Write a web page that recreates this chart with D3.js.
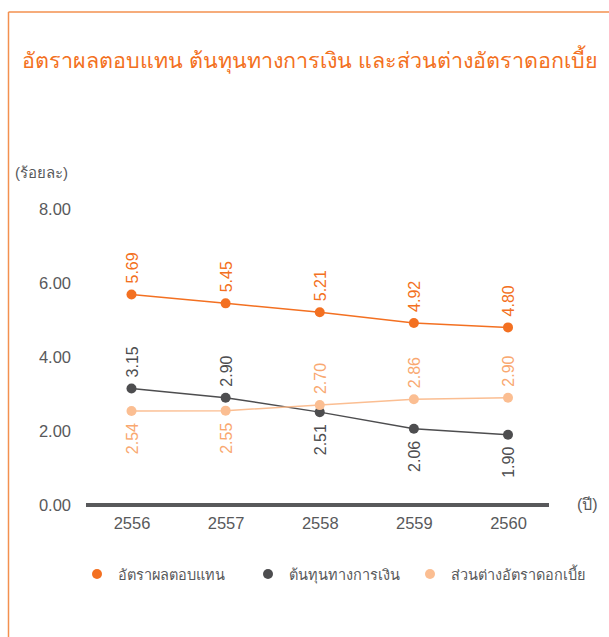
<!DOCTYPE html>
<html>
<head>
<meta charset="utf-8">
<script src="https://cdnjs.cloudflare.com/ajax/libs/d3/7.8.5/d3.min.js"></script>
<style>
  html, body { margin: 0; padding: 0; background: #fff; }
  svg { display: block; }
  text { font-family: "Liberation Sans", Arial, "Noto Sans", sans-serif; }
</style>
</head>
<body>
<svg id="chart" width="609" height="637"></svg>
<script>
const title = "อัตราผลตอบแทน ต้นทุนทางการเงิน และส่วนต่างอัตราดอกเบี้ย";
const yUnit = "(ร้อยละ)";
const xUnit = "(ปี)";
const years = ["2556", "2557", "2558", "2559", "2560"];
const seriesNames = ["อัตราผลตอบแทน", "ต้นทุนทางการเงิน", "ส่วนต่างอัตราดอกเบี้ย"];
const yieldRate = [5.69, 5.45, 5.21, 4.92, 4.80];
const costOfFunds = [3.15, 2.90, 2.51, 2.06, 1.90];
const spread = [2.54, 2.55, 2.70, 2.86, 2.90];
const yTicks = [0, 2, 4, 6, 8];
const colors = ["#F37021", "#4D4D4F", "#FBBE92"];
const labelColors = ["#F37021", "#4D4D4F", "#F9A870"];

const svg = d3.select("#chart");
const orange = "#F37021";
const gray = "#58595B";

// frame
svg.append("line").attr("x1", 8.5).attr("x2", 609).attr("y1", 12).attr("y2", 12)
  .attr("stroke", "#F3904F").attr("stroke-width", 1.5);
svg.append("line").attr("x1", 8.5).attr("x2", 8.5).attr("y1", 12).attr("y2", 637)
  .attr("stroke", "#F3904F").attr("stroke-width", 1.5);

// title: scale font so it spans the same width as the reference
const t = svg.append("text").attr("x", 22).attr("y", 68)
  .attr("fill", orange).style("font-size", "23px").text(title);
const tw = t.node().getComputedTextLength();
if (tw > 0) t.style("font-size", (23 * 575 / tw).toFixed(2) + "px");

const x = d3.scalePoint().domain(years).range([131.5, 508]);
const y = d3.scaleLinear().domain([0, 8]).range([505, 209]);

// y axis labels
const yAxis = d3.axisLeft(y).tickValues(yTicks).tickFormat(d3.format(".2f")).tickSize(0).tickPadding(0);
const gy = svg.append("g").attr("transform", "translate(71,0)").call(yAxis);
gy.select(".domain").remove();
gy.selectAll("text").attr("fill", gray).style("font-size", "16.5px")
  .style("font-family", "'Liberation Sans', Arial, sans-serif");

svg.append("text").attr("x", 15).attr("y", 178).attr("fill", gray)
  .style("font-size", "15px").text(yUnit);

// x axis
const xAxis = d3.axisBottom(x).tickSize(0).tickPadding(0);
const gx = svg.append("g").attr("transform", "translate(0,505)").call(xAxis);
gx.select(".domain").remove();
gx.selectAll("text").attr("fill", gray).attr("dy", "0").attr("y", 24).style("font-size", "16.5px")
  .style("font-family", "'Liberation Sans', Arial, sans-serif");
svg.append("line").attr("x1", 86).attr("x2", 549).attr("y1", y(0)).attr("y2", y(0))
  .attr("stroke", gray).attr("stroke-width", 4);
svg.append("text").attr("x", 577).attr("y", 510).attr("fill", gray)
  .style("font-size", "16px").text(xUnit);

// series
const series = [yieldRate, costOfFunds, spread];
const line = d3.line().x((d, i) => x(years[i])).y(d => y(d));
series.forEach((vals, si) => {
  svg.append("path").datum(vals).attr("d", line).attr("fill", "none")
    .attr("stroke", colors[si]).attr("stroke-width", 1.5);
  svg.selectAll(".pt" + si).data(vals).enter().append("circle")
    .attr("cx", (d, i) => x(years[i])).attr("cy", d => y(d)).attr("r", 5)
    .attr("fill", colors[si]);
});

// labels: side per point
function side(si, i) {
  if (si === 0) return "above";
  if (si === 1) return i < 2 ? "above" : "below";
  return i < 2 ? "below" : "above";
}
series.forEach((vals, si) => {
  vals.forEach((v, i) => {
    const px = x(years[i]), py = y(v);
    const s = side(si, i);
    svg.append("text")
      .attr("transform", `translate(${px + 6},${s === "above" ? py - 11 : py + 12}) rotate(-90)`)
      .attr("text-anchor", s === "above" ? "start" : "end")
      .attr("fill", labelColors[si])
      .style("font-size", "16px")
      .text(d3.format(".2f")(v));
  });
});

// legend
const legX = [97, 268, 430];
seriesNames.forEach((n, i) => {
  svg.append("circle").attr("cx", legX[i]).attr("cy", 574).attr("r", 5).attr("fill", colors[i]);
  svg.append("text").attr("x", legX[i] + 21).attr("y", 580).attr("fill", gray)
    .style("font-size", "14.5px").text(n);
});
</script>
</body>
</html>
